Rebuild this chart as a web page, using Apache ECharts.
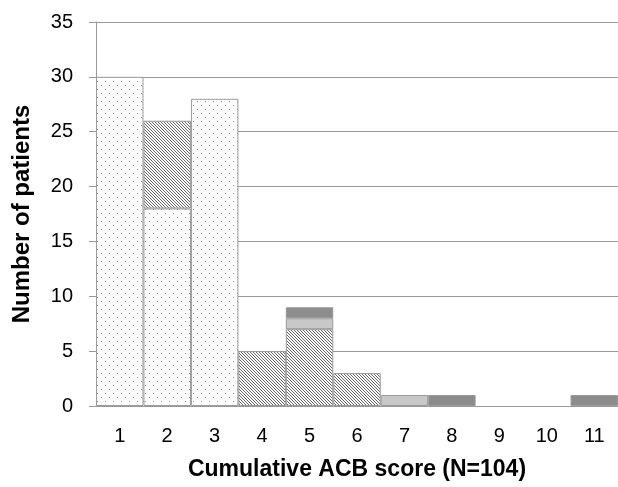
<!DOCTYPE html>
<html><head><meta charset="utf-8">
<script src="https://cdn.jsdelivr.net/npm/echarts@6/dist/echarts.min.js"></script>
<style>html,body{margin:0;padding:0;background:#fff}#c{width:618px;height:487px}</style>
</head><body><div id="c"></div>
<script>
const categories = ['1','2','3','4','5','6','7','8','9','10','11'];
const dotted = [30,18,28,0,0,0,0,0,0,0,0];
const hatched = [0,8,0,5,7,3,0,0,0,0,0];
const lightGray = [0,0,0,0,1,0,1,0,0,0,0];
const darkGray = [0,0,0,0,1,0,0,1,0,0,1];

function dotPattern(){
  const c=document.createElement('canvas');c.width=8;c.height=8;
  const g=c.getContext('2d');g.fillStyle='#fff';g.fillRect(0,0,8,8);
  g.fillStyle='#888';g.fillRect(1,1,1,1);g.fillRect(5,5,1,1);
  return c;
}
function hatchPattern(){
  const c=document.createElement('canvas');c.width=3;c.height=3;
  const g=c.getContext('2d');g.fillStyle='#fff';g.fillRect(0,0,3,3);
  g.fillStyle='#666';
  for(let i=0;i<3;i++){g.fillRect(i,i,1,1);}
  return c;
}
const chart=echarts.init(document.getElementById('c'));
const border={borderColor:'#9a9a9a',borderWidth:1};
function s(name,data,color){
  return {name,type:'bar',stack:'a',data:data.map(v=>v===0?null:v),barCategoryGap:0,
    itemStyle:Object.assign({color},border)};
}
chart.setOption({
  animation:false,
  textStyle:{fontFamily:'Liberation Sans, Arial, sans-serif'},
  grid:{left:96,right:0,top:22,bottom:81},
  xAxis:{type:'category',data:categories,
    name:'Cumulative ACB score (N=104)',nameLocation:'middle',nameGap:52,
    nameTextStyle:{fontSize:23,fontWeight:'bold',color:'#000'},
    axisLine:{lineStyle:{color:'#999'}},axisTick:{length:6,lineStyle:{color:'#999'}},
    axisLabel:{fontSize:20,color:'#000',margin:20}},
  yAxis:{type:'value',min:0,max:35,interval:5,
    name:'Number of patients',nameLocation:'middle',nameGap:62,nameRotate:90,
    nameTextStyle:{fontSize:24,fontWeight:'bold',color:'#000'},
    axisLine:{show:true,lineStyle:{color:'#999'}},axisTick:{show:true,length:7,lineStyle:{color:'#999'}},
    splitLine:{lineStyle:{color:'#999'}},
    axisLabel:{fontSize:20,color:'#000',margin:23}},
  series:[
    s('dotted',dotted,{image:dotPattern(),repeat:'repeat'}),
    s('hatched',hatched,{image:hatchPattern(),repeat:'repeat'}),
    s('light',lightGray,'#c8c8c8'),
    s('dark',darkGray,'#8c8c8c')
  ]
});
</script></body></html>
